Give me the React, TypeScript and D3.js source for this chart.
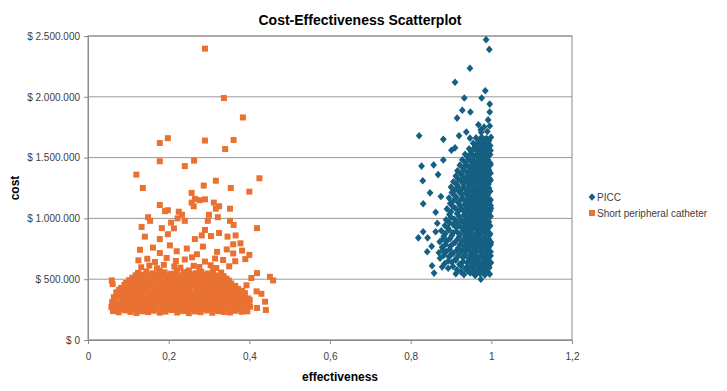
import React, { useRef, useEffect } from "react";
import * as d3 from "d3";

// effectiveness, cost in thousands of $
const piccPoints: [number, number][] = [
  // scattered outliers
  [0.987, 2470], [0.995, 2390], [0.947, 2235], [0.91, 2120], [0.985, 2050], [0.933, 1990], [0.976, 1990],
  [0.996, 1940], [0.928, 1890], [0.948, 1875], [0.996, 1875], [0.915, 1825], [0.992, 1810], [0.968, 1770],
  [0.821, 1680], [0.881, 1650], [0.92, 1680], [0.938, 1710], [0.974, 1730], [0.947, 1660], [0.901, 1560],
  [0.91, 1580], [0.881, 1480], [0.827, 1430], [0.857, 1440], [0.83, 1310], [0.848, 1210], [0.831, 1120],
  [0.862, 1050], [0.831, 890], [0.819, 840], [0.842, 840], [0.841, 726], [0.852, 770], [0.862, 890],
  [0.853, 610], [0.858, 550], [0.878, 600], [0.974, 500], [0.868, 1360], [0.875, 1180], [0.866, 960],
  // dense column
  [0.912, 545], [0.932, 538], [0.948, 552], [0.96, 530], [0.972, 548], [0.984, 535], [0.996, 542],
  [0.893, 590], [0.915, 578], [0.935, 586], [0.947, 594], [0.959, 575], [0.971, 588], [0.983, 582], [0.995, 596],
  [0.884, 628], [0.902, 640], [0.921, 622], [0.94, 635], [0.953, 626], [0.965, 638], [0.977, 630], [0.989, 624], [0.999, 636],
  [0.873, 672], [0.895, 684], [0.912, 668], [0.93, 679], [0.944, 670], [0.956, 686], [0.968, 674], [0.98, 681], [0.992, 667],
  [0.87, 718], [0.888, 727], [0.905, 712], [0.925, 724], [0.938, 731], [0.95, 715], [0.962, 722], [0.974, 729], [0.986, 711], [0.998, 726],
  [0.878, 762], [0.898, 770], [0.918, 757], [0.933, 768], [0.945, 775], [0.957, 760], [0.969, 766], [0.981, 772], [0.993, 758],
  [0.872, 808], [0.89, 815], [0.91, 802], [0.928, 813], [0.94, 806], [0.952, 818], [0.964, 804], [0.976, 811], [0.988, 816], [0.999, 803],
  [0.882, 852], [0.902, 860], [0.92, 848], [0.935, 857], [0.947, 862], [0.959, 850], [0.971, 858], [0.983, 846], [0.995, 861],
  [0.876, 898], [0.895, 905], [0.914, 893], [0.93, 902], [0.942, 896], [0.954, 908], [0.966, 899], [0.978, 892], [0.99, 904],
  [0.885, 942], [0.905, 950], [0.922, 938], [0.937, 947], [0.949, 953], [0.961, 940], [0.973, 946], [0.985, 951], [0.997, 939],
  [0.888, 988], [0.908, 995], [0.926, 984], [0.94, 992], [0.952, 997], [0.964, 986], [0.976, 993], [0.988, 982],
  [0.896, 1032], [0.915, 1040], [0.932, 1028], [0.945, 1037], [0.957, 1042], [0.969, 1030], [0.981, 1036], [0.993, 1044],
  [0.89, 1078], [0.91, 1085], [0.928, 1073], [0.942, 1082], [0.954, 1087], [0.966, 1075], [0.978, 1081], [0.99, 1070], [0.999, 1084],
  [0.898, 1122], [0.918, 1130], [0.934, 1118], [0.947, 1127], [0.959, 1132], [0.971, 1120], [0.983, 1126], [0.995, 1133],
  [0.895, 1168], [0.913, 1175], [0.93, 1163], [0.944, 1172], [0.956, 1177], [0.968, 1165], [0.98, 1171], [0.992, 1160],
  [0.902, 1212], [0.92, 1220], [0.936, 1208], [0.949, 1217], [0.961, 1222], [0.973, 1210], [0.985, 1216], [0.997, 1223],
  [0.9, 1258], [0.917, 1265], [0.933, 1253], [0.946, 1262], [0.958, 1267], [0.97, 1255], [0.982, 1261], [0.994, 1250],
  [0.906, 1302], [0.924, 1310], [0.939, 1298], [0.951, 1307], [0.963, 1312], [0.975, 1300], [0.987, 1306], [0.998, 1313],
  [0.912, 1348], [0.928, 1355], [0.942, 1343], [0.954, 1352], [0.966, 1357], [0.978, 1345], [0.99, 1351],
  [0.916, 1392], [0.932, 1400], [0.946, 1388], [0.958, 1397], [0.97, 1402], [0.982, 1390], [0.994, 1396],
  [0.922, 1438], [0.937, 1445], [0.95, 1433], [0.962, 1442], [0.974, 1447], [0.986, 1435], [0.998, 1441],
  [0.928, 1482], [0.944, 1490], [0.956, 1478], [0.968, 1487], [0.98, 1492], [0.992, 1480],
  [0.935, 1528], [0.95, 1535], [0.962, 1523], [0.974, 1532], [0.986, 1537], [0.997, 1525],
  [0.945, 1572], [0.958, 1580], [0.97, 1568], [0.982, 1577], [0.994, 1582],
  [0.955, 1618], [0.967, 1625], [0.979, 1613], [0.991, 1622],
  [0.962, 1662], [0.976, 1670], [0.988, 1658], [0.999, 1667],
  [0.975, 1708], [0.99, 1715],
  [0.982, 1752], [0.996, 1760],
  // in-between rows of the dense column
  [0.925, 560], [0.942, 566], [0.954, 558], [0.966, 563], [0.978, 555], [0.99, 568],
  [0.905, 604], [0.925, 611], [0.941, 602], [0.953, 609], [0.965, 615], [0.977, 600], [0.989, 607],
  [0.893, 650], [0.912, 657], [0.93, 646], [0.946, 654], [0.958, 660], [0.97, 648], [0.982, 655], [0.994, 651],
  [0.882, 695], [0.9, 701], [0.918, 692], [0.935, 699], [0.95, 704], [0.962, 690], [0.974, 697], [0.986, 702], [0.998, 693],
  [0.88, 740], [0.897, 746], [0.914, 737], [0.93, 744], [0.944, 749], [0.956, 735], [0.968, 742], [0.98, 747], [0.992, 738],
  [0.886, 785], [0.905, 791], [0.922, 782], [0.939, 789], [0.951, 794], [0.963, 780], [0.975, 787], [0.987, 792], [0.998, 783],
  [0.88, 830], [0.898, 836], [0.916, 827], [0.934, 834], [0.946, 839], [0.958, 825], [0.97, 832], [0.982, 837], [0.994, 828],
  [0.886, 875], [0.905, 881], [0.922, 872], [0.937, 879], [0.949, 884], [0.961, 870], [0.973, 877], [0.985, 882], [0.997, 873],
  [0.893, 920], [0.913, 926], [0.93, 917], [0.944, 924], [0.956, 929], [0.968, 915], [0.98, 922], [0.992, 927],
  [0.896, 965], [0.915, 971], [0.932, 962], [0.946, 969], [0.958, 974], [0.97, 960], [0.982, 967], [0.994, 972],
  [0.9, 1010], [0.92, 1016], [0.937, 1007], [0.951, 1014], [0.963, 1019], [0.975, 1005], [0.987, 1012], [0.998, 1017],
  [0.9, 1055], [0.919, 1061], [0.936, 1052], [0.949, 1059], [0.961, 1064], [0.973, 1050], [0.985, 1057], [0.997, 1062],
  [0.904, 1100], [0.922, 1106], [0.938, 1097], [0.951, 1104], [0.963, 1109], [0.975, 1095], [0.987, 1102], [0.998, 1107],
  [0.906, 1145], [0.923, 1151], [0.939, 1142], [0.952, 1149], [0.964, 1154], [0.976, 1140], [0.988, 1147], [0.998, 1152],
  [0.908, 1190], [0.926, 1196], [0.942, 1187], [0.955, 1194], [0.967, 1199], [0.979, 1185], [0.991, 1192],
  [0.91, 1235], [0.927, 1241], [0.942, 1232], [0.955, 1239], [0.967, 1244], [0.979, 1230], [0.991, 1237],
  [0.914, 1280], [0.93, 1286], [0.945, 1277], [0.957, 1284], [0.969, 1289], [0.981, 1275], [0.993, 1282],
  [0.918, 1325], [0.934, 1331], [0.948, 1322], [0.96, 1329], [0.972, 1334], [0.984, 1320], [0.996, 1327],
  [0.924, 1370], [0.94, 1376], [0.952, 1367], [0.964, 1374], [0.976, 1379], [0.988, 1365], [0.998, 1372],
  [0.93, 1415], [0.944, 1421], [0.956, 1412], [0.968, 1419], [0.98, 1424], [0.992, 1410],
  [0.936, 1460], [0.95, 1466], [0.962, 1457], [0.974, 1464], [0.986, 1469], [0.997, 1455],
  [0.942, 1505], [0.956, 1511], [0.968, 1502], [0.98, 1509], [0.992, 1514],
  [0.95, 1550], [0.964, 1556], [0.976, 1547], [0.988, 1554], [0.998, 1559],
  [0.96, 1595], [0.973, 1601], [0.985, 1592], [0.997, 1599],
  [0.97, 1640], [0.982, 1646], [0.994, 1637],
];

const shortPoints: [number, number][] = [
  // scattered outliers
  [0.29, 2396], [0.337, 1990], [0.384, 1830], [0.178, 1620], [0.198, 1660], [0.29, 1640], [0.361, 1645],
  [0.34, 1570], [0.178, 1470], [0.24, 1430], [0.263, 1475], [0.12, 1360], [0.136, 1250], [0.287, 1270],
  [0.317, 1310], [0.354, 1250], [0.425, 1330], [0.4, 1220], [0.257, 1210], [0.265, 1160], [0.277, 1150],
  [0.29, 1157], [0.257, 1130], [0.262, 1100], [0.178, 1110], [0.312, 1130], [0.325, 1100], [0.317, 1080],
  [0.352, 1080], [0.191, 1060], [0.198, 1067], [0.225, 1055], [0.233, 1030], [0.149, 1010], [0.154, 980],
  [0.24, 980], [0.222, 1000], [0.3, 1030], [0.297, 980], [0.322, 1010], [0.352, 980], [0.361, 946],
  [0.206, 965], [0.133, 930], [0.183, 920], [0.213, 918], [0.29, 905], [0.419, 920], [0.141, 850],
  [0.178, 830], [0.198, 870], [0.265, 830], [0.282, 860], [0.305, 855], [0.325, 880], [0.346, 850],
  [0.366, 860], [0.378, 795], [0.36, 787],
  [0.451, 520], [0.459, 490], [0.419, 550], [0.405, 510], [0.418, 400], [0.43, 380], [0.439, 315],
  [0.441, 247], [0.419, 263], [0.401, 330], [0.393, 450], [0.059, 490], [0.061, 460],
  // upper fringe
  [0.129, 742], [0.161, 760], [0.178, 715], [0.203, 778], [0.22, 730], [0.245, 752], [0.27, 705],
  [0.285, 768], [0.32, 725], [0.344, 745], [0.36, 712], [0.382, 735], [0.4, 700],
  [0.125, 655], [0.147, 668], [0.166, 642], [0.195, 675], [0.218, 650], [0.24, 662], [0.258, 680],
  [0.29, 645], [0.315, 670], [0.335, 658], [0.365, 648], [0.39, 665],
  [0.132, 598], [0.152, 612], [0.171, 590], [0.188, 618], [0.214, 604], [0.229, 595], [0.262, 610],
  [0.276, 600], [0.304, 615], [0.318, 592], [0.35, 606],
  [0.124, 552], [0.145, 564], [0.16, 548], [0.178, 570], [0.19, 556], [0.206, 545], [0.22, 566],
  [0.237, 558], [0.25, 572], [0.268, 550], [0.281, 561], [0.297, 547], [0.31, 568], [0.33, 555],
  // dense band
  [0.11, 512], [0.125, 520], [0.14, 508], [0.154, 525], [0.169, 515], [0.183, 509], [0.198, 522],
  [0.212, 514], [0.227, 527], [0.241, 511], [0.256, 518], [0.27, 506], [0.285, 523], [0.299, 516],
  [0.314, 510], [0.328, 521], [0.343, 505],
  [0.094, 470], [0.109, 478], [0.123, 466], [0.138, 483], [0.152, 472], [0.167, 486], [0.181, 469],
  [0.196, 480], [0.21, 475], [0.225, 488], [0.239, 467], [0.254, 479], [0.268, 484], [0.283, 471],
  [0.297, 476], [0.312, 482], [0.326, 468], [0.341, 474], [0.355, 465],
  [0.082, 428], [0.097, 437], [0.111, 432], [0.126, 444], [0.14, 426], [0.155, 439], [0.169, 431],
  [0.184, 446], [0.198, 435], [0.213, 427], [0.227, 441], [0.242, 433], [0.256, 448], [0.271, 429],
  [0.285, 438], [0.3, 442], [0.314, 430], [0.329, 436], [0.343, 425], [0.358, 434], [0.372, 420],
  [0.07, 392], [0.085, 384], [0.099, 401], [0.114, 389], [0.128, 396], [0.143, 407], [0.157, 386],
  [0.172, 398], [0.186, 391], [0.201, 404], [0.215, 388], [0.23, 395], [0.244, 402], [0.259, 385],
  [0.273, 399], [0.288, 393], [0.302, 406], [0.317, 387], [0.331, 397], [0.346, 390], [0.36, 383],
  [0.375, 395], [0.389, 386],
  [0.064, 352], [0.078, 361], [0.093, 347], [0.107, 358], [0.122, 366], [0.136, 349], [0.151, 356],
  [0.165, 363], [0.18, 345], [0.194, 359], [0.209, 352], [0.223, 367], [0.238, 348], [0.252, 361],
  [0.267, 355], [0.281, 344], [0.296, 362], [0.31, 351], [0.325, 357], [0.339, 346], [0.354, 364],
  [0.368, 353], [0.383, 349], [0.397, 342],
  [0.06, 312], [0.076, 305], [0.091, 322], [0.105, 310], [0.12, 318], [0.134, 306], [0.149, 325],
  [0.163, 314], [0.178, 308], [0.192, 320], [0.207, 311], [0.221, 326], [0.236, 304], [0.25, 317],
  [0.265, 309], [0.279, 323], [0.294, 313], [0.308, 307], [0.323, 321], [0.337, 310], [0.352, 316],
  [0.366, 324], [0.381, 305], [0.396, 318],
  [0.058, 270], [0.069, 282], [0.083, 265], [0.098, 276], [0.112, 288], [0.127, 268], [0.141, 279],
  [0.156, 272], [0.17, 285], [0.185, 266], [0.199, 277], [0.214, 283], [0.228, 270], [0.243, 281],
  [0.257, 268], [0.272, 275], [0.286, 287], [0.301, 264], [0.315, 279], [0.33, 271], [0.344, 284],
  [0.359, 269], [0.373, 277], [0.388, 266], [0.402, 274],
  [0.062, 238], [0.076, 228], [0.091, 244], [0.105, 231], [0.12, 222], [0.134, 236], [0.149, 229],
  [0.163, 241], [0.178, 225], [0.192, 233], [0.207, 246], [0.221, 226], [0.236, 238], [0.25, 221],
  [0.265, 235], [0.279, 229], [0.294, 243], [0.308, 224], [0.323, 237], [0.337, 230], [0.352, 226],
  [0.366, 240], [0.381, 232], [0.395, 236],
  // in-between rows of the dense band
  [0.069, 252], [0.083, 258], [0.098, 249], [0.112, 255], [0.127, 261], [0.141, 247], [0.156, 254],
  [0.17, 259], [0.185, 250], [0.199, 256], [0.214, 262], [0.228, 248], [0.243, 253], [0.257, 260],
  [0.272, 251], [0.286, 257], [0.301, 263], [0.315, 249], [0.33, 254], [0.344, 259], [0.359, 250],
  [0.373, 256], [0.388, 252],
  [0.065, 292], [0.08, 298], [0.094, 289], [0.109, 295], [0.123, 301], [0.138, 287], [0.152, 294],
  [0.167, 299], [0.181, 290], [0.196, 296], [0.21, 302], [0.225, 288], [0.239, 293], [0.254, 300],
  [0.268, 291], [0.283, 297], [0.297, 303], [0.312, 289], [0.326, 294], [0.341, 299], [0.355, 290],
  [0.37, 296], [0.384, 292], [0.399, 298],
  [0.067, 332], [0.083, 338], [0.098, 329], [0.112, 335], [0.127, 341], [0.141, 327], [0.156, 334],
  [0.17, 339], [0.185, 330], [0.199, 336], [0.214, 342], [0.228, 328], [0.243, 333], [0.257, 340],
  [0.272, 331], [0.286, 337], [0.301, 343], [0.315, 329], [0.33, 334], [0.344, 339], [0.359, 330],
  [0.373, 336], [0.388, 332],
  [0.075, 372], [0.09, 378], [0.104, 369], [0.119, 375], [0.133, 381], [0.148, 367], [0.162, 374],
  [0.177, 379], [0.191, 370], [0.206, 376], [0.22, 382], [0.235, 368], [0.249, 373], [0.264, 380],
  [0.278, 371], [0.293, 377], [0.307, 383], [0.322, 369], [0.336, 374], [0.351, 379], [0.365, 370],
  [0.38, 376],
  [0.077, 412], [0.092, 418], [0.106, 409], [0.121, 415], [0.135, 421], [0.15, 407], [0.164, 414],
  [0.179, 419], [0.193, 410], [0.208, 416], [0.222, 422], [0.237, 408], [0.251, 413], [0.266, 420],
  [0.28, 411], [0.295, 417], [0.309, 423], [0.324, 409], [0.338, 414], [0.353, 419], [0.367, 410],
  [0.382, 405],
  [0.09, 452], [0.104, 458], [0.118, 449], [0.133, 455], [0.147, 461], [0.162, 447], [0.176, 454],
  [0.191, 459], [0.205, 450], [0.22, 456], [0.234, 462], [0.249, 448], [0.263, 453], [0.278, 460],
  [0.292, 451], [0.307, 457], [0.321, 463], [0.336, 449], [0.35, 454], [0.365, 445],
  [0.102, 492], [0.117, 498], [0.131, 489], [0.146, 495], [0.16, 501], [0.175, 487], [0.189, 494],
  [0.204, 499], [0.218, 490], [0.233, 496], [0.247, 502], [0.262, 488], [0.276, 493], [0.291, 500],
  [0.305, 491], [0.32, 497], [0.334, 485], [0.349, 490],
  [0.118, 532], [0.133, 538], [0.147, 529], [0.162, 535], [0.176, 541], [0.191, 527], [0.205, 534],
  [0.22, 539], [0.234, 530], [0.249, 536], [0.263, 542], [0.278, 528], [0.292, 533], [0.307, 540],
  [0.321, 531], [0.336, 526],
];

const seriesNames = ["PICC", "Short peripheral catheter"];
const seriesColors = ["#156082", "#E97132"];
const xTicks = [0, 0.2, 0.4, 0.6, 0.8, 1, 1.2];
const yTicks = [0, 500000, 1000000, 1500000, 2000000, 2500000];

const layout = { width: 727, height: 391, marginTop: 36, marginRight: 155, marginBottom: 51, marginLeft: 88 };
const font = "'Liberation Sans Narrow', 'Arial Narrow', 'Liberation Sans', sans-serif";

export default function App() {
  const ref = useRef<SVGSVGElement>(null);

  useEffect(() => {
    const svg = d3.select(ref.current);
    svg.selectAll("*").remove();

    const x = d3.scaleLinear().domain([0, 1.2]).range([layout.marginLeft, layout.width - layout.marginRight]);
    const y = d3.scaleLinear().domain([0, 2500000]).range([layout.height - layout.marginBottom, layout.marginTop]);

    // gridlines
    svg.append("g")
      .selectAll("line")
      .data(yTicks)
      .join("line")
      .attr("x1", x(0)).attr("x2", x(1.2))
      .attr("y1", d => y(d)).attr("y2", d => y(d))
      .attr("stroke", "#9a9a9a").attr("stroke-width", 1);

    // plot border
    svg.append("rect")
      .attr("x", x(0)).attr("y", y(2500000))
      .attr("width", x(1.2) - x(0)).attr("height", y(0) - y(2500000))
      .attr("fill", "none").attr("stroke", "#8c8c8c");

    const yAxis = svg.append("g")
      .attr("transform", `translate(${x(0)},0)`)
      .call(d3.axisLeft(y).tickValues(yTicks).tickSize(4).tickSizeOuter(0)
        .tickFormat(d => "$ " + d3.format(",")(d as number).replace(/,/g, ".")));
    yAxis.select(".domain").attr("stroke", "#8c8c8c");
    yAxis.selectAll(".tick line").attr("stroke", "#8c8c8c");
    yAxis.selectAll(".tick text").attr("font-family", font).attr("font-size", 10).attr("fill", "#404040").attr("dx", -1);

    const xAxis = svg.append("g")
      .attr("transform", `translate(0,${y(0)})`)
      .call(d3.axisBottom(x).tickValues(xTicks).tickSize(4).tickSizeOuter(0)
        .tickFormat(d => String(+(d as number).toFixed(1)).replace(".", ",")));
    xAxis.select(".domain").attr("stroke", "#8c8c8c");
    xAxis.selectAll(".tick line").attr("stroke", "#8c8c8c");
    xAxis.selectAll(".tick text").attr("font-family", font).attr("font-size", 10).attr("fill", "#404040").attr("dy", "1.3em");

    const diamond = "M0,-3.8L3.4,0L0,3.8L-3.4,0Z";
    const square = "M-3,-3H3V3H-3Z";

    svg.append("g")
      .selectAll("path")
      .data(piccPoints)
      .join("path")
      .attr("d", diamond)
      .attr("transform", d => `translate(${x(d[0])},${y(d[1] * 1000)})`)
      .attr("fill", seriesColors[0]);

    svg.append("g")
      .selectAll("path")
      .data(shortPoints)
      .join("path")
      .attr("d", square)
      .attr("transform", d => `translate(${x(d[0])},${y(d[1] * 1000)})`)
      .attr("fill", seriesColors[1]);

    // titles
    svg.append("text")
      .attr("x", 360).attr("y", 25)
      .attr("text-anchor", "middle")
      .attr("font-family", font).attr("font-weight", "bold").attr("font-size", 14).attr("fill", "#000")
      .text("Cost-Effectiveness Scatterplot");

    svg.append("text")
      .attr("x", 340).attr("y", 381)
      .attr("text-anchor", "middle")
      .attr("font-family", font).attr("font-weight", "bold").attr("font-size", 12).attr("fill", "#000")
      .text("effectiveness");

    svg.append("text")
      .attr("transform", `translate(19,${(y(0) + y(2500000)) / 2}) rotate(-90)`)
      .attr("text-anchor", "middle")
      .attr("font-family", font).attr("font-weight", "bold").attr("font-size", 12).attr("fill", "#000")
      .text("cost");

    // legend
    const legend = svg.append("g").attr("transform", "translate(592,197)");
    const items = legend.selectAll("g").data(seriesNames).join("g")
      .attr("transform", (d, i) => `translate(0,${i * 16})`);
    items.append("path")
      .attr("d", (d, i) => i === 0 ? diamond : square)
      .attr("fill", (d, i) => seriesColors[i]);
    items.append("text")
      .attr("x", 5).attr("y", 3.5)
      .attr("font-family", font).attr("font-size", 10).attr("fill", "#404040")
      .text(d => d);
  }, []);

  return (
    <svg ref={ref} width={layout.width} height={layout.height}
      style={{ position: "absolute", left: 0, top: 0, background: "#fff" }} />
  );
}
